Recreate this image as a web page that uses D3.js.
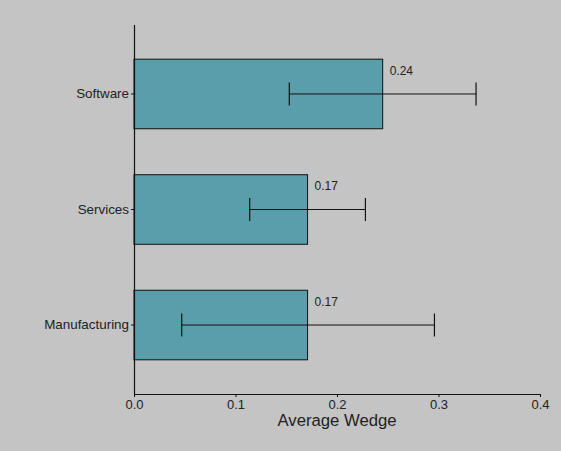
<!DOCTYPE html>
<html><head><meta charset="utf-8">
<script src="https://cdn.jsdelivr.net/npm/d3@7"></script>
<style>
html,body{margin:0;padding:0;background:#c4c4c4;}
svg{display:block;}
text{font-family:"Liberation Sans",Arial,sans-serif;}
</style></head>
<body>
<svg id="chart" width="561" height="451"></svg>
<script>
const categories = ["Software", "Services", "Manufacturing"];
const meanValues = [0.245, 0.171, 0.171];
const errLow = [0.153, 0.114, 0.047];
const errHigh = [0.337, 0.228, 0.296];
const valueLabels = ["0.24", "0.17", "0.17"];
const xTicks = [0, 0.1, 0.2, 0.3, 0.4];
const titleText = "Average Wedge by Industry";
const xLabel = "Average Wedge";

const svg = d3.select("#chart");
svg.append("rect").attr("width",561).attr("height",451).attr("fill","#c4c4c4");

const x = d3.scaleLinear().domain([0,0.4]).range([134,540]);
const y = d3.scaleBand().domain(categories).range([25,394]).paddingInner(0.398).paddingOuter(0.296);

const data = categories.map((c,i)=>({c, v:meanValues[i], lo:errLow[i], hi:errHigh[i], lab:valueLabels[i]}));

// title (mostly clipped above the canvas, as in the reference)
svg.append("text").attr("x",66).attr("y",-4.6).attr("font-size",24.7).attr("fill","#222")
  .text(titleText);

// bars
svg.selectAll("rect.bar").data(data).enter().append("rect").attr("class","bar")
  .attr("x",x(0)).attr("y",d=>y(d.c)).attr("width",d=>x(d.v)-x(0)).attr("height",y.bandwidth())
  .attr("fill","#5b9eab").attr("stroke","#111").attr("stroke-width",1);

// error bars
const eb = svg.selectAll("g.eb").data(data).enter().append("g").attr("class","eb");
eb.append("line").attr("x1",d=>x(d.lo)).attr("x2",d=>x(d.hi))
  .attr("y1",d=>y(d.c)+y.bandwidth()/2).attr("y2",d=>y(d.c)+y.bandwidth()/2)
  .attr("stroke","#111").attr("stroke-width",1);
eb.append("line").attr("x1",d=>x(d.lo)).attr("x2",d=>x(d.lo))
  .attr("y1",d=>y(d.c)+y.bandwidth()/2-11.5).attr("y2",d=>y(d.c)+y.bandwidth()/2+11.5)
  .attr("stroke","#111").attr("stroke-width",1.2);
eb.append("line").attr("x1",d=>x(d.hi)).attr("x2",d=>x(d.hi))
  .attr("y1",d=>y(d.c)+y.bandwidth()/2-11.5).attr("y2",d=>y(d.c)+y.bandwidth()/2+11.5)
  .attr("stroke","#111").attr("stroke-width",1.2);

// value labels
svg.selectAll("text.vl").data(data).enter().append("text").attr("class","vl")
  .attr("x",d=>x(d.v)+7).attr("y",d=>y(d.c)+15.5).attr("font-size",12).attr("fill","#222")
  .text(d=>d.lab);

// axes
const xAxis = d3.axisBottom(x).tickValues(xTicks).tickFormat(d3.format(".1f")).tickSize(3).tickPadding(3);
const gx = svg.append("g").attr("transform","translate(0,394)").call(xAxis);
gx.select(".domain").attr("stroke","#111").attr("stroke-width",1.2).attr("d","M134,0.5H540");
gx.selectAll(".tick line").attr("stroke","#111");
gx.selectAll(".tick text").attr("font-size",13).attr("fill","#222").attr("font-family","Liberation Sans, Arial, sans-serif");

const yAxis = d3.axisLeft(y).tickSize(3).tickPadding(2);
const gy = svg.append("g").attr("transform","translate(134,0)").call(yAxis);
gy.select(".domain").attr("stroke","#111").attr("stroke-width",1.2).attr("d","M0.5,25V394");
gy.selectAll(".tick line").attr("stroke","#111");
gy.selectAll(".tick text").attr("font-size",13.4).attr("fill","#222").attr("font-family","Liberation Sans, Arial, sans-serif");

svg.append("text").attr("x",337).attr("y",426).attr("text-anchor","middle")
  .attr("font-size",16.7).attr("fill","#222").text(xLabel);
</script>
</body></html>
